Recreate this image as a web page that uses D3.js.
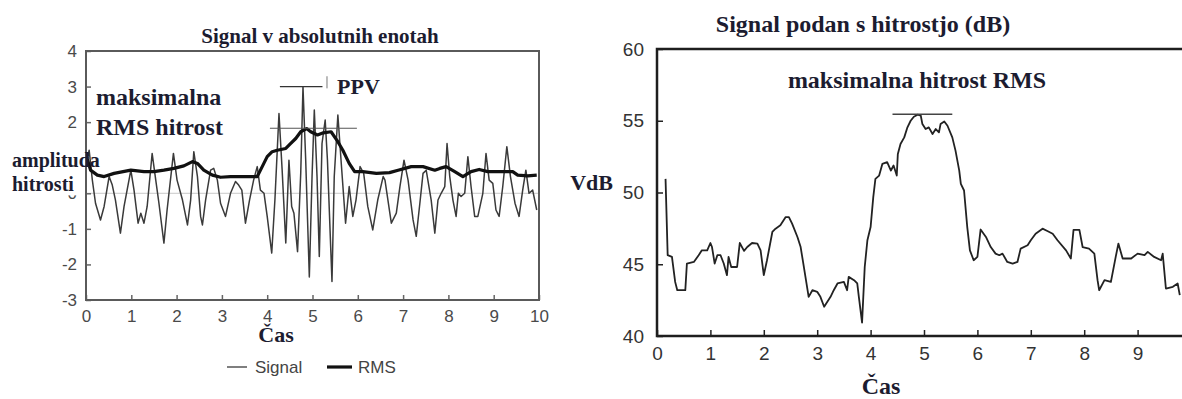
<!DOCTYPE html>
<html>
<head>
<meta charset="utf-8">
<script src="https://cdn.jsdelivr.net/npm/d3@7"></script>
<style>
  body { margin: 0; background: #fff; }
  svg { display: block; }
  .lbl { font-family: "Liberation Serif", "Times New Roman", serif; font-weight: bold; fill: #1c1c30; }
  .ax-l text { font-family: "Liberation Sans", Arial, sans-serif; font-size: 17px; fill: #4a4a4a; }
  .ax-r text { font-family: "Liberation Sans", Arial, sans-serif; font-size: 19px; fill: #333; }
  .ax-l line { stroke: #666; stroke-width: 1.5; }
  .ax-r line { stroke: #222; stroke-width: 1.5; }
  .legend text { font-family: "Liberation Sans", Arial, sans-serif; font-size: 17px; fill: #444; }
</style>
</head>
<body>
<div id="chart"></div>
<script>
'use strict';

// levo: signal v absolutnih enotah
var signalTime = [0.01, 0.07, 0.14, 0.21, 0.32, 0.40, 0.51, 0.58, 0.65, 0.76, 0.84, 0.99, 1.06, 1.15, 1.21, 1.28, 1.35, 1.46, 1.54, 1.61,
    1.72, 1.79, 1.93, 2.01, 2.13, 2.24, 2.31, 2.38, 2.46, 2.53, 2.57, 2.64, 2.75, 2.82, 2.90, 2.97, 3.08, 3.19, 3.30, 3.37,
    3.44, 3.52, 3.61, 3.70, 3.78, 3.85, 3.93, 4.00, 4.10, 4.17, 4.26, 4.33, 4.41, 4.48, 4.54, 4.59, 4.67, 4.74, 4.79, 4.85,
    4.93, 4.99, 5.04, 5.10, 5.15, 5.21, 5.28, 5.33, 5.43, 5.48, 5.56, 5.63, 5.73, 5.81, 5.89, 5.96, 6.05, 6.13, 6.22, 6.33,
    6.44, 6.56, 6.60, 6.74, 6.85, 6.93, 7.02, 7.11, 7.22, 7.29, 7.37, 7.44, 7.51, 7.62, 7.70, 7.77, 7.84, 7.92, 7.97, 8.03,
    8.10, 8.17, 8.22, 8.28, 8.36, 8.43, 8.50, 8.58, 8.65, 8.76, 8.83, 8.90, 8.98, 9.05, 9.12, 9.20, 9.29, 9.37, 9.47, 9.56,
    9.64, 9.71, 9.78, 9.86, 9.95];
var signalValue = [0.85, 1.21, 0.37, -0.28, -0.75, -0.37, 0.47, 0.23, -0.19, -1.12, -0.37, 0.65, 0.09, -0.84, -0.56, -0.84, -0.37, 1.12, 0.37, -0.28,
    -1.40, -0.47, 1.12, 0.37, -0.19, -0.89, -0.19, 1.17, 0.47, -0.65, -0.89, -0.19, 0.65, 0.70, 0.37, -0.28, -0.65, 0.00, 0.33, 0.23,
    0.09, -0.84, -0.19, 0.37, 0.75, 0.09, 0.00, -0.65, -1.68, -0.19, 2.24, 0.65, -1.40, 0.93, -0.37, -0.56, -1.64, 0.56, 2.99, 0.93,
    -2.35, 0.47, 2.34, 0.47, -1.78, 1.40, 2.06, 0.93, -2.48, 0.47, 2.20, 0.93, -0.84, 0.19, -0.65, -0.19, 0.75, 0.56, -0.37, -1.03,
    -0.19, 0.47, 0.37, -0.84, -0.56, 0.19, 0.93, 0.37, -0.75, -1.21, -0.28, 0.56, 0.65, -0.19, -1.12, -0.19, 0.00, 0.19, 1.40, 0.47,
    -0.19, -0.65, 0.00, -0.09, 0.00, 1.03, 0.19, -0.65, -0.65, 0.00, 1.12, 0.37, 0.28, -0.47, -0.65, 0.19, 1.31, 0.47, -0.28, -0.65,
    0.09, 0.65, 0.00, 0.09, -0.47];

var rmsTime = [0.02, 0.10, 0.25, 0.40, 0.62, 0.99, 1.28, 1.50, 1.72, 1.94, 2.16, 2.35, 2.46, 2.60, 2.79, 2.97, 3.19, 3.30, 3.59, 3.78,
    3.89, 4.00, 4.11, 4.22, 4.41, 4.52, 4.63, 4.74, 4.87, 4.96, 5.11, 5.24, 5.41, 5.56, 5.67, 5.81, 5.93, 6.11, 6.41, 6.70,
    6.89, 7.18, 7.44, 7.70, 7.81, 7.95, 8.14, 8.32, 8.50, 8.68, 8.87, 9.09, 9.42, 9.53, 9.75, 9.95];
var rmsValue = [1.00, 0.65, 0.51, 0.47, 0.56, 0.65, 0.61, 0.61, 0.65, 0.70, 0.77, 0.89, 0.84, 0.65, 0.51, 0.45, 0.47, 0.47, 0.47, 0.47,
    0.75, 1.03, 1.17, 1.21, 1.26, 1.40, 1.54, 1.73, 1.82, 1.73, 1.64, 1.70, 1.73, 1.45, 1.21, 0.84, 0.61, 0.61, 0.56, 0.58,
    0.65, 0.75, 0.75, 0.65, 0.70, 0.75, 0.61, 0.47, 0.61, 0.67, 0.61, 0.61, 0.61, 0.51, 0.49, 0.51];

// desno: signal v dB
var vdbTime = [0.16, 0.20, 0.28, 0.34, 0.38, 0.53, 0.56, 0.69, 0.78, 0.84, 0.94, 1.00, 1.03, 1.08, 1.13, 1.19, 1.25, 1.31, 1.34, 1.39,
    1.44, 1.50, 1.55, 1.63, 1.69, 1.78, 1.88, 1.94, 2.00, 2.06, 2.16, 2.22, 2.31, 2.41, 2.47, 2.53, 2.63, 2.69, 2.75, 2.84,
    2.91, 3.00, 3.06, 3.13, 3.19, 3.25, 3.31, 3.38, 3.50, 3.56, 3.59, 3.69, 3.75, 3.78, 3.84, 3.89, 3.94, 4.00, 4.05, 4.09,
    4.16, 4.22, 4.31, 4.38, 4.43, 4.49, 4.51, 4.56, 4.63, 4.69, 4.75, 4.81, 4.88, 4.94, 4.97, 5.03, 5.09, 5.16, 5.22, 5.28,
    5.31, 5.38, 5.44, 5.53, 5.59, 5.66, 5.69, 5.75, 5.81, 5.86, 5.93, 6.00, 6.06, 6.16, 6.25, 6.34, 6.41, 6.47, 6.56, 6.66,
    6.75, 6.81, 6.94, 7.00, 7.09, 7.22, 7.31, 7.41, 7.50, 7.66, 7.75, 7.80, 7.91, 7.97, 8.09, 8.19, 8.25, 8.28, 8.38, 8.50,
    8.59, 8.64, 8.72, 8.88, 9.00, 9.13, 9.19, 9.31, 9.44, 9.47, 9.53, 9.66, 9.75, 9.79];
var vdbValue = [50.95, 45.63, 45.51, 43.77, 43.19, 43.19, 45.05, 45.16, 45.63, 45.97, 45.97, 46.48, 46.20, 45.05, 45.63, 45.63, 45.05, 44.24, 45.51, 44.81,
    44.81, 44.81, 46.48, 45.93, 46.20, 46.48, 46.44, 45.97, 44.24, 45.28, 47.25, 47.48, 47.71, 48.29, 48.29, 47.83, 46.90, 46.20, 44.81, 42.73,
    43.19, 43.08, 42.73, 42.04, 42.39, 42.73, 43.19, 43.66, 43.77, 43.19, 44.12, 43.89, 43.66, 42.73, 40.93, 44.81, 46.67, 47.59, 49.68, 50.95,
    51.18, 51.99, 52.11, 51.53, 51.88, 51.18, 52.69, 53.38, 53.84, 54.54, 55.00, 55.28, 55.42, 55.35, 54.77, 54.42, 54.54, 54.08, 54.42, 54.19,
    54.77, 54.95, 54.65, 53.84, 52.92, 51.53, 50.60, 50.14, 47.59, 45.97, 45.28, 45.51, 47.42, 46.90, 46.20, 45.74, 45.63, 45.74, 45.16, 45.05,
    45.16, 46.09, 46.32, 46.67, 47.13, 47.48, 47.32, 47.13, 46.67, 45.97, 45.40, 47.40, 47.40, 46.20, 46.09, 45.74, 43.89, 43.19, 43.89, 43.77,
    45.51, 46.44, 45.40, 45.40, 45.74, 45.63, 45.86, 45.51, 45.28, 45.74, 43.31, 43.43, 43.66, 42.85];

var leftXTicks = [0, 1, 2, 3, 4, 5, 6, 7, 8, 9, 10];
var leftYTicks = [-3, -2, -1, 0, 1, 2, 3, 4];
var rightXTicks = [0, 1, 2, 3, 4, 5, 6, 7, 8, 9];
var rightYTicks = [40, 45, 50, 55, 60];

// oznake
var ppvLevel = 3.0, ppvSpan = [4.28, 5.22], ppvMark = [5.32, 2.95, 3.29];
var rmsMaxLevel = 1.83, rmsMaxSpan = [4.06, 5.98];
var vdbMaxLevel = 55.45, vdbMaxSpan = [4.41, 5.53];

var width = 1182,
    height = 399;

// navaden minus (-), ne unicode
var plainNum = function(d) { return String(d); };

var svg = d3.select('#chart').append('svg')
    .attr('width', width)
    .attr('height', height);

svg.append('rect').attr('width', width).attr('height', height).attr('fill', '#fff');

var pairs = function(ts, vs) {
    return ts.map(function(t, i) { return [t, vs[i]]; });
};

// ---------- levi graf ----------
var lx = d3.scaleLinear().domain([0, 10]).range([86, 539]),
    ly = d3.scaleLinear().domain([-3, 4]).range([300, 51]);

var left = svg.append('g');

left.append('line')
    .attr('x1', lx(0)).attr('x2', lx(10))
    .attr('y1', ly(0)).attr('y2', ly(0))
    .attr('stroke', '#c8c8c8').attr('stroke-width', 1);

var lline = d3.line()
    .x(function(d) { return lx(d[0]); })
    .y(function(d) { return ly(d[1]); });

left.append('path')
    .datum(pairs(signalTime, signalValue))
    .attr('d', lline)
    .attr('fill', 'none')
    .attr('stroke', '#3a3a3a')
    .attr('stroke-width', 1.5)
    .attr('stroke-linejoin', 'round');

left.append('path')
    .datum(pairs(rmsTime, rmsValue))
    .attr('d', lline)
    .attr('fill', 'none')
    .attr('stroke', '#111')
    .attr('stroke-width', 3.2)
    .attr('stroke-linejoin', 'round');

// PPV in max RMS crte
left.append('line')
    .attr('x1', lx(ppvSpan[0])).attr('x2', lx(ppvSpan[1]))
    .attr('y1', ly(ppvLevel)).attr('y2', ly(ppvLevel))
    .attr('stroke', '#333').attr('stroke-width', 1.3);
left.append('line')
    .attr('x1', lx(ppvMark[0])).attr('x2', lx(ppvMark[0]))
    .attr('y1', ly(ppvMark[1])).attr('y2', ly(ppvMark[2]))
    .attr('stroke', '#777').attr('stroke-width', 1);
left.append('line')
    .attr('x1', lx(rmsMaxSpan[0])).attr('x2', lx(rmsMaxSpan[1]))
    .attr('y1', ly(rmsMaxLevel)).attr('y2', ly(rmsMaxLevel))
    .attr('stroke', '#555').attr('stroke-width', 1.1);

left.append('g')
    .attr('class', 'ax-l')
    .attr('transform', 'translate(0,' + ly(-3) + ')')
    .call(d3.axisBottom(lx).tickValues(leftXTicks).tickFormat(plainNum)
        .tickSizeInner(-5).tickSizeOuter(0).tickPadding(10))
    .call(function(g) { g.select('.domain').remove(); });

left.append('g')
    .attr('class', 'ax-l')
    .attr('transform', 'translate(' + lx(0) + ',0)')
    .call(d3.axisLeft(ly).tickValues(leftYTicks).tickFormat(plainNum)
        .tickSizeInner(-5).tickSizeOuter(0).tickPadding(9))
    .call(function(g) { g.select('.domain').remove(); });

left.append('rect')
    .attr('x', lx(0)).attr('y', ly(4))
    .attr('width', lx(10) - lx(0)).attr('height', ly(-3) - ly(4))
    .attr('fill', 'none').attr('stroke', '#5a5a5a').attr('stroke-width', 2);

// legenda
var legend = left.append('g').attr('class', 'legend');
legend.append('line').attr('x1', 227).attr('x2', 247).attr('y1', 367).attr('y2', 367)
    .attr('stroke', '#555').attr('stroke-width', 1.5);
legend.append('text').attr('x', 255).attr('y', 373).text('Signal');
legend.append('line').attr('x1', 327).attr('x2', 352).attr('y1', 367).attr('y2', 367)
    .attr('stroke', '#111').attr('stroke-width', 3.2);
legend.append('text').attr('x', 358).attr('y', 373).text('RMS');

// ---------- desni graf ----------
var rx = d3.scaleLinear().domain([0, 10]).range([657, 1191]),
    ry = d3.scaleLinear().domain([40, 60]).range([336, 49]);

var right = svg.append('g');

right.append('path')
    .datum(pairs(vdbTime, vdbValue))
    .attr('d', d3.line()
        .x(function(d) { return rx(d[0]); })
        .y(function(d) { return ry(d[1]); }))
    .attr('fill', 'none')
    .attr('stroke', '#222')
    .attr('stroke-width', 1.8)
    .attr('stroke-linejoin', 'round');

right.append('line')
    .attr('x1', rx(vdbMaxSpan[0])).attr('x2', rx(vdbMaxSpan[1]))
    .attr('y1', ry(vdbMaxLevel)).attr('y2', ry(vdbMaxLevel))
    .attr('stroke', '#444').attr('stroke-width', 1.6);

right.append('g')
    .attr('class', 'ax-r')
    .attr('transform', 'translate(0,' + ry(40) + ')')
    .call(d3.axisBottom(rx).tickValues(rightXTicks).tickFormat(plainNum)
        .tickSizeInner(-6).tickSizeOuter(0).tickPadding(11))
    .call(function(g) { g.select('.domain').remove(); });

right.append('g')
    .attr('class', 'ax-r')
    .attr('transform', 'translate(' + rx(0) + ',0)')
    .call(d3.axisLeft(ry).tickValues(rightYTicks).tickFormat(plainNum)
        .tickSizeInner(-6).tickSizeOuter(0).tickPadding(13))
    .call(function(g) { g.select('.domain').remove(); });

right.append('path')
    .attr('d', 'M' + width + ',' + ry(60) + 'H' + rx(0) + 'V' + ry(40) + 'H' + width)
    .attr('fill', 'none').attr('stroke', '#1e1e1e').attr('stroke-width', 2.5);

// ---------- besedila ----------
var labels = [
    { t: 'Signal v absolutnih enotah', x: 320, y: 43, s: 21, a: 'middle' },
    { t: 'maksimalna', x: 96, y: 105, s: 24, a: 'start' },
    { t: 'RMS hitrost', x: 96, y: 135, s: 24, a: 'start' },
    { t: 'amplituda', x: 12, y: 167, s: 20, a: 'start', bg: true },
    { t: 'hitrosti', x: 12, y: 191, s: 20, a: 'start', bg: true },
    { t: 'PPV', x: 337, y: 94, s: 22, a: 'start' },
    { t: 'Čas', x: 276, y: 342, s: 22, a: 'middle' },
    { t: 'Signal podan s hitrostjo (dB)', x: 863, y: 32, s: 24, a: 'middle' },
    { t: 'maksimalna hitrost RMS', x: 917, y: 88, s: 24, a: 'middle' },
    { t: 'VdB', x: 613, y: 190, s: 22, a: 'end' },
    { t: 'Čas', x: 881, y: 394, s: 24, a: 'middle' }
];

var tg = svg.append('g');

// besedilni okvirji prekrijejo oznake osi (kot v izvirniku)
tg.selectAll('rect.bg').data(labels.filter(function(d) { return d.bg; }))
    .enter().append('rect')
    .attr('class', 'bg')
    .attr('x', function(d) { return d.x - 2; })
    .attr('y', function(d) { return d.y - d.s * 0.78; })
    .attr('width', 84 - 10)
    .attr('height', function(d) { return d.s * 1.0; })
    .attr('fill', '#fff');

tg.selectAll('text').data(labels)
    .enter().append('text')
    .attr('class', 'lbl')
    .attr('x', function(d) { return d.x; })
    .attr('y', function(d) { return d.y; })
    .attr('font-size', function(d) { return d.s; })
    .attr('text-anchor', function(d) { return d.a; })
    .text(function(d) { return d.t; });
</script>
</body>
</html>
